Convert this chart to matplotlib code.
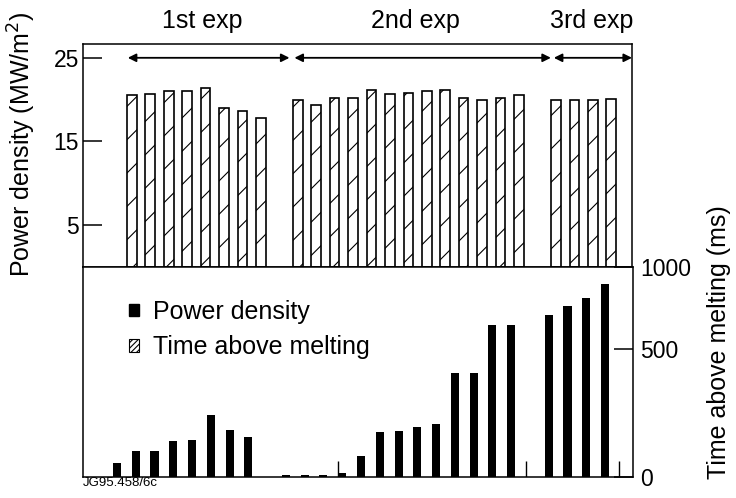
import numpy as np
import matplotlib.pyplot as plt
from matplotlib.patches import Patch

plt.rcParams['font.family'] = ['Liberation Sans', 'DejaVu Sans']
plt.rcParams['hatch.linewidth'] = 0.8

# slot positions of the shots (one empty slot between experiments)
slots = list(range(0, 8)) + list(range(9, 22)) + list(range(23, 27))

# power density (MW/m2) - hatched bars, top panel
power_density = [20.5, 20.7, 21.0, 21.0, 21.4, 19.0, 18.6, 17.8,
                 20.0, 19.4, 20.2, 20.2, 21.1, 20.7, 20.8, 21.0, 21.2, 20.2, 20.0, 20.2, 20.6,
                 19.9, 19.9, 19.9, 20.1]

# time above melting (ms) - black bars, bottom panel
time_above = [55, 102, 102, 142, 146, 244, 185, 157,
              6, 6, 6, 16, 83, 177, 181, 197, 209, 409, 409, 646, 646,
              707, 762, 811, 896]

# thin marks in the bottom panel
mark_slots = [11.77, 21.79, 26.74]
mark_height = [63, 63, 63]

groups = ['1st exp', '2nd exp', '3rd exp']
group_label_x = [3.81, 15.37, 24.95]
group_start = [-0.22, 8.82, 22.89]
group_end = [8.55, 22.73, 27.13]

# the right axis of the original is not linear between 0, 500 and 1000
scale_vals = [0, 500, 1000]
scale_pix = [0, 127, 209]


def fwd(v):
    return np.interp(v, scale_vals, scale_pix)


def inv(p):
    return np.interp(p, scale_pix, scale_vals)


fig = plt.figure(figsize=(7.36, 4.98), dpi=100)
ax1 = fig.add_axes([83 / 736, 1 - 267 / 498, 549 / 736, 223 / 498])
ax2 = fig.add_axes([83 / 736, 1 - 477 / 498, 550 / 736, 210 / 498])

# top panel
ax1.bar(slots, power_density, width=0.52, color='white', edgecolor='black',
        linewidth=1.2, hatch='/')
ax1.set_xlim(-2.65, 27.13)
ax1.set_ylim(0, 26.65)
ax1.set_yticks([5, 15, 25])
ax1.set_xticks([])
ax1.tick_params(axis='y', direction='in', length=14, width=1.1, labelsize=16.5, pad=3)
ax1.set_ylabel('Power density (MW/m$^2$)', fontsize=18)
ax1.yaxis.set_label_coords(-0.082, 0.55)
for s in ax1.spines.values():
    s.set_linewidth(1.1)

for x0, x1 in zip(group_start, group_end):
    ax1.annotate('', xy=(x1, 25), xytext=(x0, 25),
                 arrowprops=dict(arrowstyle='<|-|>', color='black', lw=1.3,
                                 mutation_scale=12, shrinkA=0, shrinkB=0),
                 annotation_clip=False)
for g, gx in zip(groups, group_label_x):
    ax1.text(gx, 28.56, g, ha='center', va='baseline', fontsize=18, clip_on=False)

# bottom panel
ax2.bar(slots, time_above, width=0.43, color='black')
ax2.vlines(mark_slots, 0, mark_height, color='black', linewidth=1)
ax2.set_yscale('function', functions=(fwd, inv))
ax2.set_xlim(-1.81, 27.49)
ax2.set_ylim(0, 1000)
ax2.set_xticks([])
ax2.set_yticks([0, 500, 1000])
ax2.yaxis.tick_right()
ax2.yaxis.set_label_position('right')
ax2.tick_params(axis='y', direction='in', length=14, width=1.1, labelsize=16.5, pad=5)
ax2.set_ylabel('Time above melting (ms)', fontsize=18)
ax2.yaxis.set_label_coords(1.135, 0.64)
for s in ax2.spines.values():
    s.set_linewidth(1.1)

handles = [Patch(facecolor='black', edgecolor='black'),
           Patch(facecolor='white', edgecolor='black', hatch='//////', linewidth=0.8)]
ax2.legend(handles, ['Power density', 'Time above melting'], loc='upper left',
           bbox_to_anchor=(0.0836, 0.843), frameon=False, fontsize=18,
           handlelength=0.4, handleheight=0.4, handletextpad=0.56,
           labelspacing=0.45, borderpad=0, borderaxespad=0)

fig.text(83 / 736, 1 - 483 / 498, 'JG95.458/6c', fontsize=9.5, ha='left', va='center')

fig.savefig('out.png', dpi=100)
